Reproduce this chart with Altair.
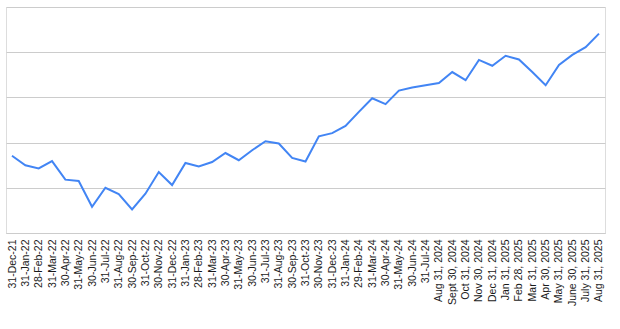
import altair as alt
import pandas as pd

dates = [
    "31-Dec-21", "31-Jan-22", "28-Feb-22", "31-Mar-22", "30-Apr-22", "31-May-22",
    "30-Jun-22", "31-Jul-22", "31-Aug-22", "30-Sep-22", "31-Oct-22", "30-Nov-22",
    "31-Dec-22", "31-Jan-23", "28-Feb-23", "31-Mar-23", "30-Apr-23", "31-May-23",
    "30-Jun-23", "31-Jul-23", "31-Aug-23", "30-Sep-23", "31-Oct-23", "30-Nov-23",
    "31-Dec-23", "31-Jan-24", "29-Feb-24", "31-Mar-24", "30-Apr-24", "31-May-24",
    "30-Jun-24", "31-Jul-24", "Aug 31, 2024", "Sept 30, 2024", "Oct 31, 2024",
    "Nov 30, 2024", "Dec 31, 2024", "Jan 31, 2025", "Feb 28, 2025", "Mar 31, 2025",
    "Apr 30, 2025", "May 31, 2025", "June 30, 2025", "July 31, 2025", "Aug 31, 2025",
]

values = [
    1.71, 1.50, 1.43, 1.59, 1.18, 1.15, 0.58, 1.00, 0.86, 0.52, 0.87, 1.35,
    1.06, 1.55, 1.47, 1.57, 1.77, 1.61, 1.83, 2.03, 1.98, 1.66, 1.58, 2.14,
    2.21, 2.37, 2.68, 2.98, 2.85, 3.15, 3.22, 3.27, 3.32, 3.56, 3.38, 3.83,
    3.70, 3.92, 3.84, 3.56, 3.27, 3.72, 3.94, 4.11, 4.41,
]

grid_values = [0, 1, 2, 3, 4, 5]

df = pd.DataFrame({"date": dates, "value": values})

chart = (
    alt.Chart(df)
    .mark_line(color="#4285f4", strokeWidth=2)
    .encode(
        x=alt.X(
            "date:N",
            sort=None,
            scale=alt.Scale(type="point", padding=0.45),
            axis=alt.Axis(
                title=None,
                labelAngle=-90,
                labelFont="Liberation Sans",
                labelFontSize=10.5,
                labelColor="#1a1a1a",
                labelPadding=6,
                ticks=False,
                domainColor="#cccccc",
                grid=False,
                labelOverlap=False,
            ),
        ),
        y=alt.Y(
            "value:Q",
            scale=alt.Scale(domain=[0, 5], nice=False, zero=True),
            axis=alt.Axis(
                title=None,
                values=grid_values,
                labels=False,
                ticks=False,
                domain=False,
                grid=True,
                gridColor="#cccccc",
            ),
        ),
    )
    .properties(
        width=599,
        height=226,
        autosize=alt.AutoSizeParams(type="none"),
        padding={"left": 6, "top": 7, "right": 15, "bottom": 96},
    )
    .configure_view(stroke=None)
    .configure(background="white")
)

chart.save("out.html", embed_options={"renderer": "svg", "actions": False})
